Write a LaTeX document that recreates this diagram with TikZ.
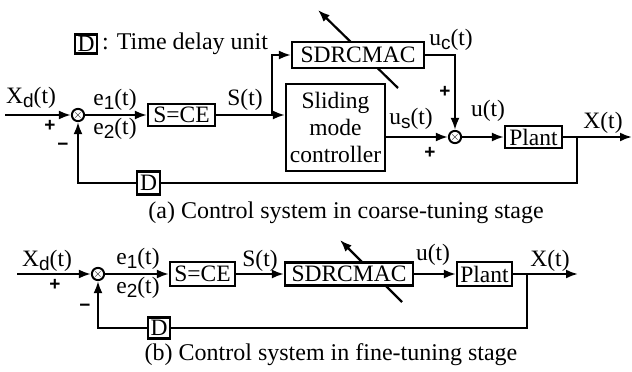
\documentclass[tikz,border=0pt]{standalone}
\usepackage{fontspec}
\setmainfont{Liberation Serif}
\setsansfont{Liberation Sans}
\usetikzlibrary{arrows.meta,positioning,calc,backgrounds}
\newcommand{\sub}[1]{\raisebox{-0.4ex}{\sffamily\fontsize{19}{19}\selectfont #1}}

\begin{document}
\begin{tikzpicture}[x=1pt, y=-1pt,
  box/.style={draw, line width=2.2pt, fill=white, inner sep=0pt, align=center,
              font=\fontsize{23.5}{27}\selectfont},
  sumnode/.style={draw, circle, line width=2pt, inner sep=0pt, minimum size=12pt,
                  font=\bfseries\fontsize{12}{12}\selectfont},
  arr/.style={-{Latex[length=12pt,width=9pt]}, line width=2.2pt},
  wire/.style={line width=2.2pt},
  lbl/.style={font=\fontsize{23.5}{25}\selectfont, inner sep=0pt},
  sgn/.style={font=\sffamily\bfseries\fontsize{19}{19}\selectfont, inner sep=0pt},
  captxt/.style={font=\fontsize{24}{26}\selectfont, inner sep=0pt}
]
\useasboundingbox (0,0) rectangle (632,372);

% ======= Legend =======
\node[box, minimum width=22pt, minimum height=19pt] (legD) at (86,44) {D};
\node[captxt, anchor=west] (legT) at (102,44) {: Time delay unit};

% ======= (a) Coarse-tuning stage =======
\coordinate (inA) at (5,115);
\node[sumnode] (sumA) at (78,115) {$\times$};
\node[box, minimum width=67pt, minimum height=22pt] (sceA) at (181.5,115) {S=CE};
\coordinate (brA) at (272,115);
\node[box, minimum width=132pt, minimum height=26pt] (sdrcA) at (358,55) {SDRCMAC};
\node[box, minimum width=99pt, minimum height=87pt] (slideA) at (335.5,127.5) {Sliding\\mode\\controller};
\node[sumnode] (sumA2) at (455,137) {$\times$};
\node[box, minimum width=57pt, minimum height=22pt] (plantA) at (533.5,137) {Plant};
\coordinate (brA2) at (577,137);
\coordinate (outA) at (632,137);
\node[box, minimum width=23pt, minimum height=23pt] (dA) at (148.5,183) {D};

\begin{scope}[on background layer]
\draw[arr] ([shift={(40,33)}]sdrcA.center) -- ([shift={(-40,-45)}]sdrcA.center);
\end{scope}

\draw[arr] (inA) -- (sumA);
\draw[arr] (sumA) -- (sceA);
\draw[wire] (sceA) -- (brA);
\draw[arr] (brA) -- (slideA.west |- brA);
\draw[arr] (brA) |- (sdrcA);
\draw[arr] (sdrcA) -| (sumA2);
\draw[arr] (slideA.east |- sumA2) -- (sumA2);
\draw[arr] (sumA2) -- (plantA);
\draw[arr] (plantA) -- (outA);
\draw[wire] (brA2) |- (dA);
\draw[arr] (dA) -| (sumA);

\node[lbl] (xdA) at (31,98) {X\sub{d}(t)};
\node[sgn] (pA1) at (50,126) {+};
\node[sgn] (mA1) at (63,147) {−};
\node[lbl] (e1A) at (115,100) {e\sub{1}(t)};
\node[lbl] (e2A) at (115,129) {e\sub{2}(t)};
\node[lbl] (sA) at (245,100) {S(t)};
\node[lbl] (ucA) at (451,40) {u\sub{c}(t)};
\node[sgn] (pA2) at (445,92) {+};
\node[lbl] (usA) at (411,119) {u\sub{s}(t)};
\node[sgn] (pA3) at (430,153) {+};
\node[lbl] (uA) at (488,111) {u(t)};
\node[lbl] (xA) at (603,123) {X(t)};
\node[captxt] (capA) at (346,213) {(a) Control system in coarse-tuning stage};

% ======= (b) Fine-tuning stage =======
\coordinate (inB) at (17,274);
\node[sumnode] (sumB) at (98,274) {$\times$};
\node[box, minimum width=65pt, minimum height=24pt] (sceB) at (202.5,274) {S=CE};
\node[box, minimum width=128pt, minimum height=23pt] (sdrcB) at (349,274) {SDRCMAC};
\node[box, minimum width=55pt, minimum height=24pt] (plantB) at (484.5,274) {Plant};
\coordinate (brB) at (527,274);
\coordinate (outB) at (578,274);
\node[box, minimum width=22pt, minimum height=21pt] (dB) at (159,328) {D};

\begin{scope}[on background layer]
\draw[arr] ([shift={(53,28)}]sdrcB.center) -- ([shift={(-9,-34)}]sdrcB.center);
\end{scope}

\draw[arr] (inB) -- (sumB);
\draw[arr] (sumB) -- (sceB);
\draw[arr] (sceB) -- (sdrcB);
\draw[arr] (sdrcB) -- (plantB);
\draw[arr] (plantB) -- (outB);
\draw[wire] (brB) |- (dB);
\draw[arr] (dB) -| (sumB);

\node[lbl] (xdB) at (47,261) {X\sub{d}(t)};
\node[sgn] (pB1) at (55,285) {+};
\node[sgn] (mB1) at (85,308) {−};
\node[lbl] (e1B) at (138,259) {e\sub{1}(t)};
\node[lbl] (e2B) at (138,288) {e\sub{2}(t)};
\node[lbl] (sB) at (260,261) {S(t)};
\node[lbl] (uB) at (433,255) {u(t)};
\node[lbl] (xB) at (550,261) {X(t)};
\node[captxt] (capB) at (331,355) {(b) Control system in fine-tuning stage};

\end{tikzpicture}
\end{document}
